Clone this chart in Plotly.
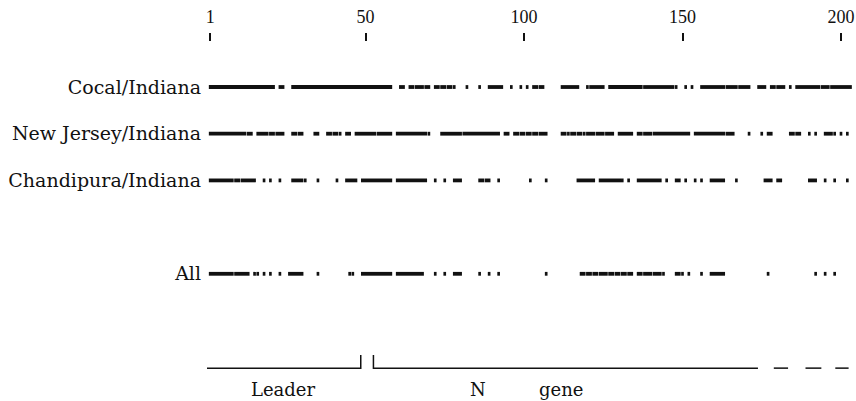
import plotly.graph_objects as go

# ---------------- data ----------------
tick_positions = [1, 50, 100, 150, 200]
tick_labels = ["1", "50", "100", "150", "200"]

row_names = ["Cocal/Indiana", "New Jersey/Indiana", "Chandipura/Indiana", "All"]
row_levels = [0, 1, 2, 4]

# runs of matching nucleotide positions (start, end)
cocal_runs = [(1, 21), (23, 24), (27, 58), (61, 62), (64, 65), (66, 68), (69, 70), (72, 73),
              (74, 75), (76, 77), (78, 78), (82, 82), (86, 86), (89, 93), (96, 96), (99, 99),
              (101, 101), (103, 104), (105, 106), (112, 117), (120, 120), (121, 125),
              (127, 137), (138, 147), (148, 148), (151, 151), (153, 153), (156, 163),
              (164, 167), (168, 171), (174, 176), (178, 179), (180, 182), (184, 184),
              (186, 193), (194, 196), (197, 203)]
njersey_runs = [(1, 12), (13, 14), (16, 19), (20, 21), (22, 24), (27, 28), (29, 30), (34, 35),
                (38, 39), (40, 41), (42, 42), (44, 45), (47, 53), (54, 58), (60, 69), (70, 70),
                (74, 80), (81, 92), (94, 95), (97, 98), (99, 100), (101, 102), (103, 104),
                (105, 107), (112, 113), (114, 114), (115, 116), (117, 118), (119, 119),
                (120, 122), (123, 125), (126, 128), (130, 134), (136, 137), (138, 140),
                (141, 152), (154, 163), (164, 166), (171, 171), (175, 175), (177, 178),
                (184, 185), (186, 187), (190, 190), (192, 192), (195, 197), (198, 198),
                (200, 200), (202, 202)]
chandipura_runs = [(1, 8), (9, 10), (11, 15), (18, 18), (20, 20), (23, 23), (27, 30), (31, 31),
                   (35, 35), (41, 41), (44, 47), (49, 58), (60, 69), (72, 72), (75, 75),
                   (78, 80), (86, 87), (88, 89), (92, 92), (102, 102), (107, 107), (117, 122),
                   (124, 131), (133, 133), (136, 143), (145, 145), (148, 149), (151, 151),
                   (154, 154), (156, 156), (159, 163), (167, 167), (176, 178), (180, 181),
                   (190, 192), (195, 195), (198, 198), (202, 202)]
all_runs = [(1, 8), (9, 13), (15, 15), (16, 16), (18, 18), (20, 20), (23, 23), (26, 30),
            (35, 35), (45, 45), (46, 46), (49, 58), (60, 68), (72, 72), (75, 75), (78, 80),
            (86, 86), (89, 89), (92, 92), (107, 107), (118, 119), (120, 121), (122, 123),
            (124, 126), (127, 128), (129, 130), (131, 132), (133, 134), (136, 137),
            (138, 140), (141, 143), (144, 144), (148, 149), (150, 150), (152, 152),
            (156, 156), (159, 163), (177, 177), (192, 192), (195, 195), (198, 198)]
row_runs = [cocal_runs, njersey_runs, chandipura_runs, all_runs]

leader_region = (-0.5, 48.5)
n_gene_region = (52.5, 173.8)
n_gene_dashes = [(178.8, 183.3), (188.8, 193.8), (198.2, 202.4)]
region_labels = [("Leader", 24.0), ("N", 85.5), ("gene", 111.8)]

# ---------------- figure ----------------
ink = "#111111"
serif = "Liberation Serif, Times New Roman, serif"
wide_serif = "DejaVu Serif, serif"

fig = go.Figure()
for runs, lvl in zip(row_runs, row_levels):
    xs, ys = [], []
    for a, b in runs:
        xs += [a - 0.42, b + 0.42, None]
        ys += [lvl, lvl, None]
    fig.add_trace(go.Scatter(x=xs, y=ys, mode="lines",
                             line=dict(color=ink, width=3.8),
                             hoverinfo="skip", showlegend=False))

br_top, br_bot = 5.74, 6.02
shapes = []
l0, l1 = leader_region
shapes.append(dict(type="path", xref="x", yref="y",
                   path=f"M {l0},{br_top} L {l0},{br_bot} L {l1},{br_bot} L {l1},{br_top}",
                   line=dict(color=ink, width=1.5)))
n0, n1 = n_gene_region
shapes.append(dict(type="path", xref="x", yref="y",
                   path=f"M {n0},{br_top} L {n0},{br_bot} L {n1},{br_bot}",
                   line=dict(color=ink, width=1.5)))
for a, b in n_gene_dashes:
    shapes.append(dict(type="line", xref="x", yref="y", x0=a, x1=b, y0=br_bot, y1=br_bot,
                       line=dict(color=ink, width=1.5)))

annotations = []
for txt, xp in region_labels:
    annotations.append(dict(x=xp, y=6.47, xref="x", yref="y", text=txt, showarrow=False,
                            font=dict(family=wide_serif, size=18, color=ink),
                            xanchor="center", yanchor="middle"))

fig.update_layout(
    width=856, height=401,
    margin=dict(l=207, r=2, t=42, b=0),
    paper_bgcolor="white", plot_bgcolor="white",
    shapes=shapes, annotations=annotations,
    xaxis=dict(range=[0, 204.1], side="top", tickvals=tick_positions, ticktext=tick_labels,
               ticks="outside", ticklen=8, tickwidth=1.5, tickcolor=ink,
               showgrid=False, zeroline=False, showline=False, automargin=False,
               tickfont=dict(family=serif, size=18, color=ink), ticklabelstandoff=3),
    yaxis=dict(range=[6.724, -0.964], tickvals=row_levels, ticktext=row_names,
               ticks="", showgrid=False, zeroline=False, showline=False, automargin=False,
               tickfont=dict(family=wide_serif, size=19, color=ink),
               ticklabelstandoff=5),
)

# remove the browser's default 8px body margin so the figure fills the window exactly
fig.write_html("out.html",
               config={"displayModeBar": False},
               post_script="document.body.style.margin='0';document.body.style.overflow='hidden';")
